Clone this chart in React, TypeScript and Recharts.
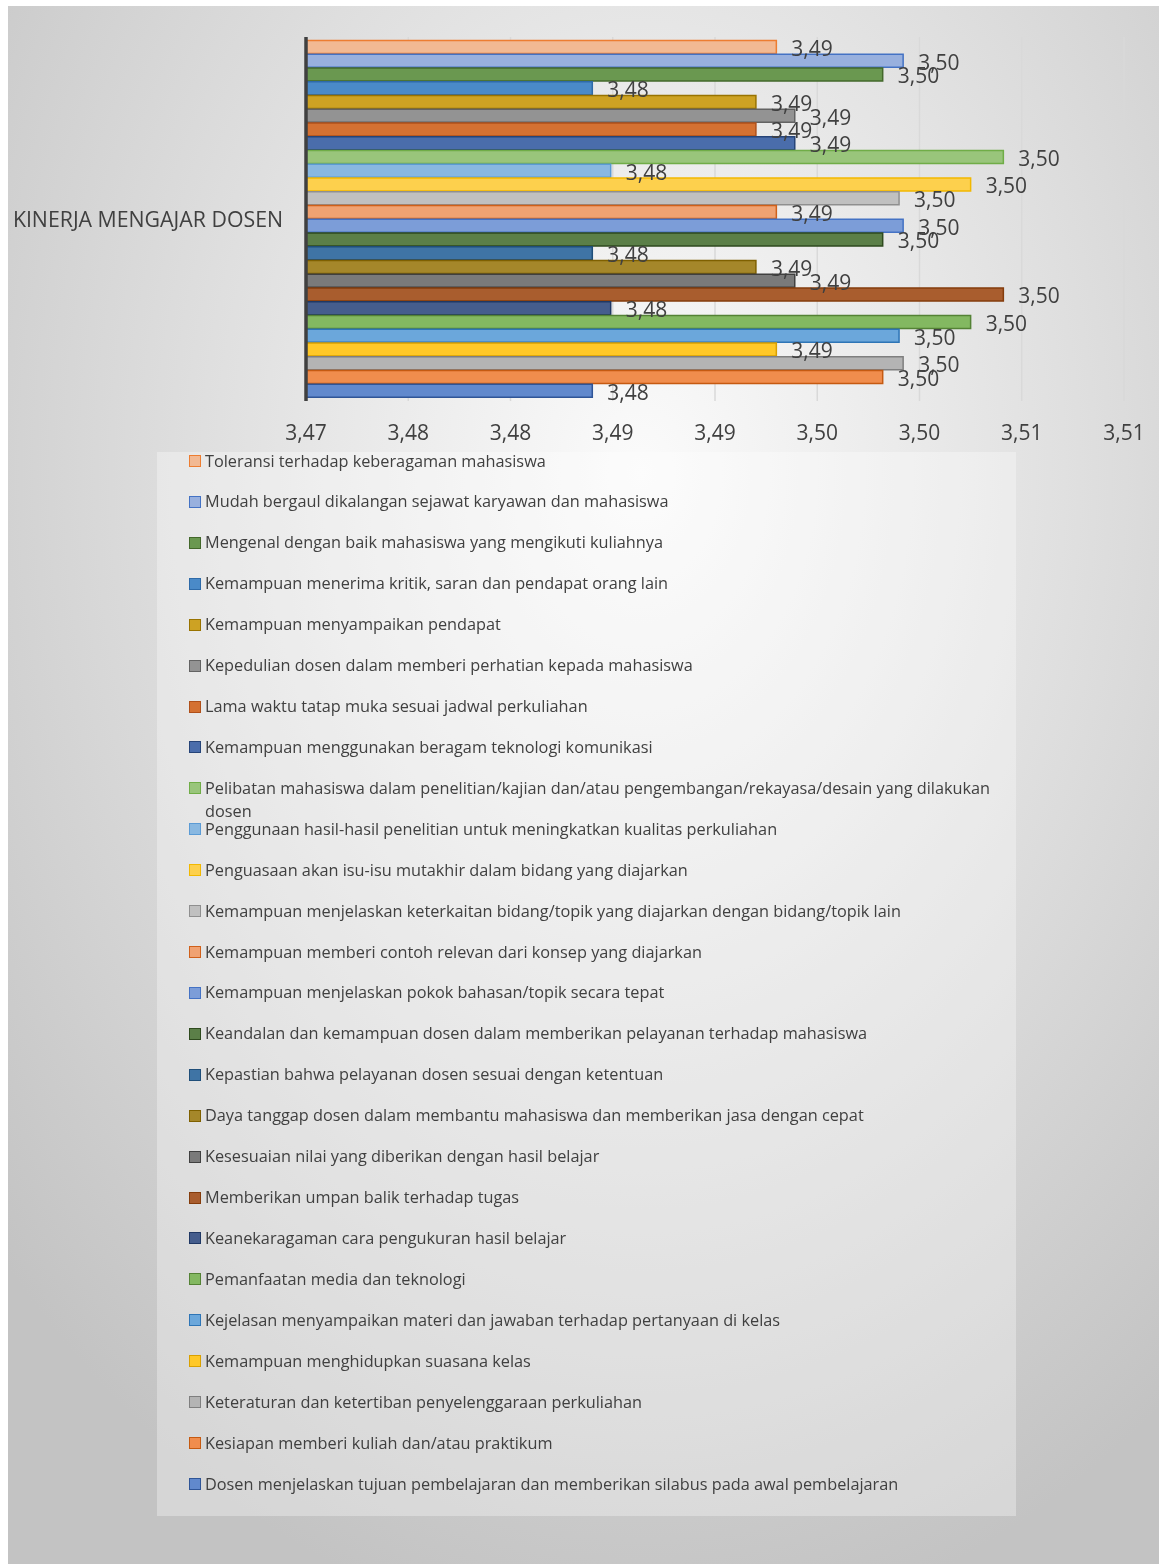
import React from 'react';
import { BarChart, Bar, XAxis, YAxis, CartesianGrid, LabelList, Legend } from 'recharts';

const categories = ['KINERJA MENGAJAR DOSEN'];

const seriesNames = [
  'Toleransi terhadap keberagaman mahasiswa',
  'Mudah bergaul dikalangan sejawat karyawan dan mahasiswa',
  'Mengenal dengan baik mahasiswa yang mengikuti kuliahnya',
  'Kemampuan menerima kritik, saran dan pendapat orang lain',
  'Kemampuan menyampaikan pendapat',
  'Kepedulian dosen dalam memberi perhatian kepada mahasiswa',
  'Lama waktu tatap muka sesuai jadwal perkuliahan',
  'Kemampuan menggunakan beragam teknologi komunikasi',
  'Pelibatan mahasiswa dalam penelitian/kajian dan/atau pengembangan/rekayasa/desain yang dilakukan dosen',
  'Penggunaan hasil-hasil penelitian untuk meningkatkan kualitas perkuliahan',
  'Penguasaan akan isu-isu mutakhir dalam bidang yang diajarkan',
  'Kemampuan menjelaskan keterkaitan bidang/topik yang diajarkan dengan bidang/topik lain',
  'Kemampuan memberi contoh relevan dari konsep yang diajarkan',
  'Kemampuan menjelaskan pokok bahasan/topik secara tepat',
  'Keandalan dan kemampuan dosen dalam memberikan pelayanan terhadap mahasiswa',
  'Kepastian bahwa pelayanan dosen sesuai dengan ketentuan',
  'Daya tanggap dosen dalam membantu mahasiswa dan memberikan jasa dengan cepat',
  'Kesesuaian nilai yang diberikan dengan hasil belajar',
  'Memberikan umpan balik terhadap tugas',
  'Keanekaragaman cara pengukuran hasil belajar',
  'Pemanfaatan media dan teknologi',
  'Kejelasan menyampaikan materi dan jawaban terhadap pertanyaan di kelas',
  'Kemampuan menghidupkan suasana kelas',
  'Keteraturan dan ketertiban penyelenggaraan perkuliahan',
  'Kesiapan memberi kuliah dan/atau praktikum',
  'Dosen menjelaskan tujuan pembelajaran dan memberikan silabus pada awal pembelajaran',
];

const seriesValues = [
  3.4930, 3.4992, 3.4982, 3.4840, 3.4920, 3.4939, 3.4920, 3.4939, 3.5041, 3.4849,
  3.5025, 3.4990, 3.4930, 3.4992, 3.4982, 3.4840, 3.4920, 3.4939, 3.5041, 3.4849,
  3.5025, 3.4990, 3.4930, 3.4992, 3.4982, 3.4840,
];

const seriesFills = [
  '#F2B993', '#98B0DE', '#6A9850', '#4A8AC8', '#CDA223', '#939393', '#D47132', '#4A6DAB',
  '#99C57B', '#89B8E1', '#FDD04D', '#C0C0C0', '#F0A272', '#7C9DD8', '#5B7F48', '#3F74A5',
  '#A5872A', '#7A7A7A', '#A95D2E', '#455D8D', '#83B861', '#6BA7DB', '#FFC828', '#B4B4B4',
  '#F08D4D', '#6189CD',
];

const seriesStrokes = [
  '#ED7D31', '#4472C4', '#43682B', '#2E6AA8', '#997300', '#636363', '#B0501A', '#264478',
  '#70AD47', '#5B9BD5', '#F2B800', '#8F8F8F', '#D0601A', '#4472C4', '#2E4A1E', '#1F4E79',
  '#7F6000', '#404040', '#843C0C', '#203864', '#548235', '#2E75B6', '#D9A000', '#7F7F7F',
  '#C55A11', '#2F5597',
];

const xTicks = [3.47, 3.475, 3.48, 3.485, 3.49, 3.495, 3.5, 3.505, 3.51];
const xTickLabels = ['3,47', '3,48', '3,48', '3,49', '3,49', '3,50', '3,50', '3,51', '3,51'];

const data = categories.map((name) => {
  const row: Record<string, any> = { name };
  seriesValues.forEach((v, i) => {
    row['s' + i] = v;
  });
  return row;
});

const FONT = "'Open Sans', sans-serif";
const TEXT = '#404040';

const fmt = (v: any) => Number(v).toFixed(2).replace('.', ',');

const BarLabel = (props: any) => {
  const { x, y, width, height, value } = props;
  return (
    <text
      x={Number(x) + Number(width) + 15}
      y={Number(y) + Number(height) / 2 + 8.8}
      fontSize={21}
      fill={TEXT}
      fontFamily={FONT}
      textAnchor="start"
    >
      {fmt(value)}
    </text>
  );
};

const LegendBox = () => (
  <div
    style={{
      position: 'relative',
      width: 859,
      height: 1064,
      background: 'rgba(255,255,255,0.32)',
      fontFamily: FONT,
      fontSize: 16.3,
      color: TEXT,
    }}
  >
    {seriesNames.map((n, i) => (
      <div key={n} style={{ position: 'absolute', left: 0, top: -2.5 + 40.92 * i, width: 859 }}>
        <div
          style={{
            position: 'absolute',
            left: 32,
            top: 5.5,
            width: 12,
            height: 12,
            boxSizing: 'border-box',
            background: seriesFills[i],
            border: '1.5px solid ' + seriesStrokes[i],
          }}
        />
        <div style={{ position: 'absolute', left: 48, top: 0, width: 800, lineHeight: '23px' }}>{n}</div>
      </div>
    ))}
  </div>
);

export default function App() {
  return (
    <div
      style={{
        position: 'fixed',
        left: 8,
        top: 6,
        width: 1151,
        height: 1558,
        overflow: 'hidden',
        background:
          'radial-gradient(ellipse 75% 75% at 55% 30%, #fbfbfb 0%, #e8e8e8 35%, #c3c3c3 100%)',
      }}
    >
      <BarChart
        width={1151}
        height={1558}
        data={data}
        layout="vertical"
        margin={{ top: 31, right: 35, bottom: 1103, left: 0 }}
        barCategoryGap={3.5}
        barGap={0.75}
      >
        <CartesianGrid horizontal={false} vertical stroke="#d9d9d9" strokeWidth={1.5} />
        <XAxis
          type="number"
          domain={[3.47, 3.51]}
          ticks={xTicks}
          interval={0}
          allowDataOverflow
          tickFormatter={(v: any, i: number) => xTickLabels[i]}
          axisLine={false}
          tickLine={false}
          tickSize={0}
          tickMargin={24}
          height={60}
          tick={{ fontSize: 21, fill: TEXT, fontFamily: FONT }}
        />
        <YAxis
          type="category"
          dataKey="name"
          width={298}
          axisLine={{ stroke: '#404040', strokeWidth: 3.5 }}
          tickLine={false}
          tickSize={0}
          tickMargin={23}
          tick={{ fontSize: 21.3, fill: TEXT, fontFamily: FONT }}
        />
        <Legend
          layout="vertical"
          align="center"
          verticalAlign="middle"
          wrapperStyle={{ left: 149, top: 446, width: 859, height: 1064 }}
          content={() => <LegendBox />}
        />
        {seriesNames.map((n, i) => (
          <Bar
            key={n}
            dataKey={'s' + i}
            name={n}
            fill={seriesFills[i]}
            stroke={seriesStrokes[i]}
            strokeWidth={1.5}
            isAnimationActive={false}
          >
            <LabelList dataKey={'s' + i} content={BarLabel} />
          </Bar>
        ))}
      </BarChart>
    </div>
  );
}
